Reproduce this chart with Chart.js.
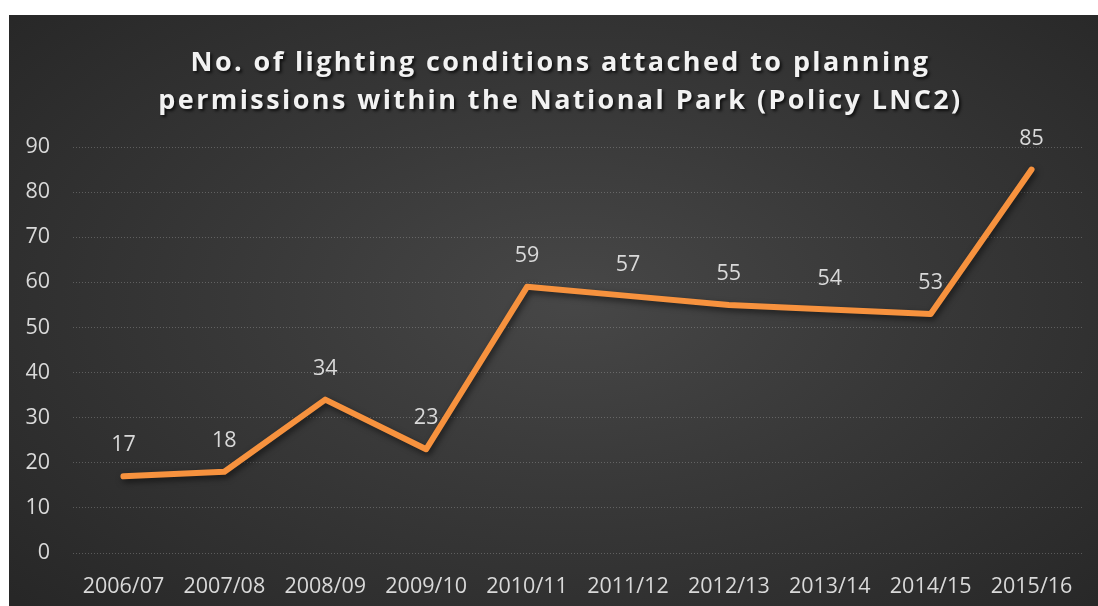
<!DOCTYPE html>
<html>
<head>
<meta charset="utf-8">
<script src="https://cdn.jsdelivr.net/npm/chart.js@4"></script>
<style>
  body { margin: 0; background: #fff; }
  #wrap {
    position: absolute; left: 9px; top: 15px; width: 1089px; height: 591px;
    background: radial-gradient(ellipse 70% 75% at 52% 48%, #474747 0%, #383838 45%, #272727 100%);
    overflow: hidden;
  }
  #title {
    position: absolute; left: 14px; right: 0; top: 27px;
    text-align: center; color: #f2f2f2;
    font: bold 27px "Open Sans", sans-serif; line-height: 38px; letter-spacing: 2.4px;
    text-shadow: 2px 2px 3px rgba(0,0,0,0.7);
  }
  canvas { position: absolute; left: 0; top: 0; }
</style>
</head>
<body>
<div id="wrap">
  <canvas id="lightingChart" width="1089" height="591"></canvas>
  <div id="title">No. of lighting conditions attached to planning<br>permissions within the National Park (Policy LNC2)</div>
</div>
<script>
const years = ['2006/07', '2007/08', '2008/09', '2009/10', '2010/11', '2011/12', '2012/13', '2013/14', '2014/15', '2015/16'];
const conditions = [17, 18, 34, 23, 59, 57, 55, 54, 53, 85];
const yTicks = [0, 10, 20, 30, 40, 50, 60, 70, 80, 90];

const labelColor = '#d9d9d9';
const tickFont = { family: '"Open Sans", sans-serif', size: 21.5 };

// value labels above each point, plus a soft shadow under the line
const valueLabels = {
  id: 'valueLabels',
  beforeDatasetDraw(chart) {
    const ctx = chart.ctx;
    ctx.save();
    ctx.shadowColor = 'rgba(0,0,0,0.55)';
    ctx.shadowBlur = 6;
    ctx.shadowOffsetX = 2;
    ctx.shadowOffsetY = 3;
  },
  afterDatasetDraw(chart) {
    chart.ctx.restore();
  },
  afterDatasetsDraw(chart) {
    const ctx = chart.ctx;
    const meta = chart.getDatasetMeta(0);
    ctx.save();
    ctx.fillStyle = labelColor;
    ctx.font = '21.5px "Open Sans", sans-serif';
    ctx.textAlign = 'center';
    ctx.textBaseline = 'middle';
    meta.data.forEach((pt, i) => {
      ctx.fillText(String(conditions[i]), pt.x, pt.y - 31);
    });
    ctx.restore();
  }
};

const ctx = document.getElementById('lightingChart').getContext('2d');
const lightingChart = new Chart(ctx, {
  type: 'line',
  data: {
    labels: years,
    datasets: [{
      label: 'Lighting conditions',
      data: conditions,
      borderColor: '#f7923e',
      borderWidth: 6,
      borderJoinStyle: 'round',
      borderCapStyle: 'round',
      pointRadius: 0,
      tension: 0,
      fill: false,
    }],
  },
  options: {
    responsive: false,
    animation: false,
    layout: { padding: { top: 132, right: 16, left: 0, bottom: 0 } },
    plugins: {
      legend: { display: false },
      tooltip: { enabled: false },
      title: { display: false },
    },
    scales: {
      x: {
        offset: true,
        grid: { display: false },
        border: { display: false },
        ticks: { color: labelColor, font: tickFont, padding: 13, maxRotation: 0 },
        afterFit(scale) { scale.height = 53; },
      },
      y: {
        min: 0,
        max: 90,
        afterBuildTicks(scale) { scale.ticks = yTicks.map(v => ({ value: v })); },
        grid: { color: 'rgba(200,200,200,0.3)', drawTicks: false, lineWidth: 1 },
        border: { display: false, dash: [1, 2] },
        ticks: { color: labelColor, font: tickFont, padding: 23 },
        afterFit(scale) { scale.width = 64; },
      },
    },
  },
  plugins: [valueLabels],
});
</script>
</body>
</html>
